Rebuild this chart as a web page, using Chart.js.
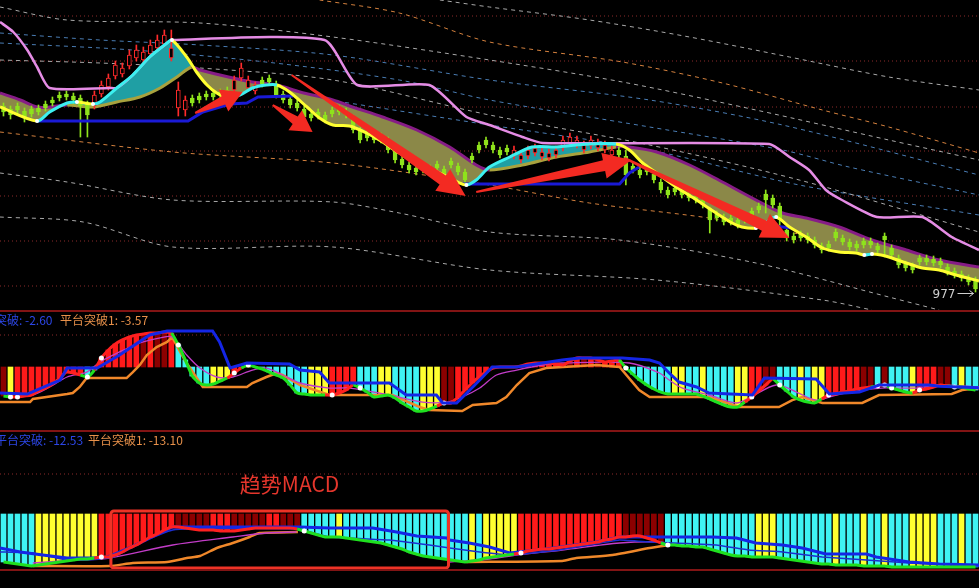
<!DOCTYPE html>
<html>
<head>
<meta charset="utf-8">
<script src="https://cdn.jsdelivr.net/npm/chart.js@4.4.1/dist/chart.umd.min.js"></script>
<style>
  html, body { margin: 0; padding: 0; background: #000; width: 979px; height: 588px; overflow: hidden; position: relative; }
  canvas { position: absolute; left: 0; }
  .sep { position: absolute; left: 0; width: 979px; height: 2px; background: #821414; }
</style>
</head>
<body>
<canvas id="kline" width="979" height="311" style="top:0"></canvas>
<canvas id="tupo" width="979" height="120" style="top:311px"></canvas>
<canvas id="macd" width="979" height="139" style="top:431px"></canvas>
<div class="sep" style="top:310px"></div>
<div class="sep" style="top:430px"></div>
<div class="sep" style="top:569px"></div>
<script>
// ---------------- K线数据 (140 根) ----------------
const kOpen = [1160,1157,1160,1155,1157,1158,1162,1166,1171,1172,
  1170,1168,1162,1160,1172,1179,1190,1192,1200,1208,
  1206,1212,1218,1222,1208,1158,1156,1168,1170,1172,
  1173,1174,1176,1176,1188,1178,1175,1186,1188,1182,
  1172,1167,1163,1157,1152,1154,1151,1156,1158,1155,
  1148,1136,1132,1131,1130,1126,1115,1107,1101,1098,
  1100,1098,1102,1097,1105,1100,1094,1110,1121,1126,
  1121,1116,1118,1110,1106,1110,1113,1109,1108,1111,
  1118,1123,1121,1116,1120,1118,1116,1111,1116,1110,
  1100,1096,1098,1092,1084,1076,1078,1075,1072,1070,
  1066,1058,1052,1049,1048,1046,1050,1055,1060,1072,
  1068,1060,1036,1030,1032,1030,1026,1020,1022,1034,
  1028,1024,1022,1025,1025,1020,1030,1018,1008,1002,
  1000,1008,1008,1007,1005,999,995,992,988,986];
const kClose = [1154,1151,1156,1148,1152,1154,1158,1163,1168,1169,
  1166,1160,1151,1171,1181,1188,1201,1198,1211,1216,
  1214,1221,1226,1231,1218,1176,1166,1163,1166,1169,
  1169,1171,1173,1186,1198,1186,1181,1182,1184,1171,
  1166,1161,1158,1149,1148,1150,1146,1152,1154,1151,
  1136,1126,1128,1126,1126,1116,1106,1101,1096,1094,
  1096,1094,1098,1091,1101,1094,1086,1106,1116,1121,
  1116,1111,1114,1116,1111,1116,1118,1114,1113,1116,
  1126,1129,1126,1121,1126,1123,1121,1116,1111,1091,
  1096,1091,1094,1086,1076,1071,1074,1071,1068,1066,
  1061,1046,1048,1044,1044,1041,1046,1051,1056,1066,
  1061,1046,1028,1026,1028,1026,1021,1016,1018,1028,
  1024,1019,1018,1021,1021,1016,1026,1011,1001,998,
  996,1004,1004,1003,1001,994,991,988,984,977];
const kHigh = [1163,1160,1163,1158,1160,1161,1165,1169,1174,1175,
  1173,1171,1165,1175,1185,1192,1205,1203,1216,1221,
  1219,1226,1231,1236,1236,1184,1170,1171,1173,1175,
  1176,1177,1179,1190,1203,1190,1184,1189,1191,1185,
  1175,1170,1166,1160,1155,1157,1154,1159,1161,1158,
  1151,1139,1135,1134,1133,1129,1118,1110,1104,1101,
  1103,1101,1105,1100,1108,1103,1097,1113,1124,1129,
  1124,1119,1121,1120,1115,1120,1122,1118,1117,1120,
  1130,1133,1130,1125,1130,1127,1125,1120,1119,1116,
  1103,1099,1101,1095,1087,1079,1081,1078,1075,1073,
  1069,1059,1055,1052,1051,1049,1053,1058,1063,1076,
  1071,1063,1039,1033,1035,1033,1029,1023,1025,1037,
  1031,1027,1025,1028,1028,1023,1033,1021,1011,1005,
  1003,1011,1011,1010,1008,1002,998,995,991,989];
const kLow = [1150,1147,1152,1144,1149,1151,1155,1160,1165,1166,
  1162,1129,1129,1157,1169,1176,1187,1189,1197,1205,
  1203,1209,1215,1219,1205,1150,1150,1160,1163,1166,
  1166,1168,1170,1173,1185,1175,1172,1179,1181,1168,
  1163,1158,1155,1146,1145,1147,1143,1149,1151,1148,
  1133,1123,1125,1123,1123,1113,1103,1098,1093,1091,
  1093,1091,1095,1088,1098,1091,1081,1103,1113,1118,
  1113,1108,1111,1107,1103,1107,1110,1106,1105,1108,
  1115,1120,1118,1113,1117,1115,1113,1108,1108,1081,
  1093,1088,1091,1083,1073,1068,1071,1068,1065,1063,
  1058,1033,1045,1041,1041,1038,1043,1048,1053,1053,
  1058,1036,1025,1023,1025,1023,1018,1013,1015,1025,
  1021,1016,1015,1018,1018,1013,1009,1008,998,995,
  993,1001,1001,1000,998,991,988,985,981,974];
const lastPriceLabel = 977;

// 主图均线 [bar index, price]
const fastLine = [[0,1159],[5.3,1145],[7.1,1154],[9.6,1163],[11,1164],[13.3,1162],[14.3,1164],[16.7,1178],[19,1191],[21.4,1209],[23.9,1223],[24.6,1226],[26.7,1209],[28.1,1194],[29.6,1181],[31,1173],[32.4,1169],[34.3,1171],[36.1,1178],[38.1,1181],[39.6,1181],[41.4,1174],[43.9,1159],[45.7,1148],[47.6,1141],[50,1140],[52.4,1133],[54.7,1124],[57.1,1113],[60,1103],[62.9,1093],[65.7,1083],[66.7,1081],[68.1,1086],[70,1099],[72.9,1109],[76.1,1119],[79.6,1119],[82.4,1121],[84.3,1122],[88.1,1122],[90,1116],[91.9,1103],[93.9,1093],[96.7,1079],[99.6,1066],[102.4,1053],[104.7,1043],[106.1,1039],[108.1,1038],[109.6,1044],[111,1049],[112.9,1039],[115.3,1029],[117.6,1018],[120,1014],[122.4,1013],[123.6,1011],[124.7,1012],[126,1011],[127.1,1009],[129.6,1003],[131.9,998],[134.3,996],[136.7,991],[140,985]];
const slowLine = [[0,1173],[2.9,1166],[5.3,1159],[7.1,1159],[9.6,1161],[13.3,1159],[16.7,1164],[20,1169],[22.9,1178],[25.3,1189],[27.4,1199],[28.6,1196],[33.3,1188],[36.1,1184],[39.6,1181],[42.9,1174],[47.6,1166],[50.4,1159],[54.7,1149],[59.6,1136],[64.3,1119],[68.1,1101],[70,1096],[74.7,1101],[79.6,1109],[84.3,1114],[88.1,1119],[90,1119],[93.9,1114],[98.6,1101],[103.3,1084],[108.1,1066],[111.9,1053],[115.3,1048],[120,1039],[124.7,1026],[129.6,1016],[134.3,1006],[140,999]];
const topLine = [[0,1244],[1.9,1234],[3.9,1216],[5.3,1199],[7.1,1178],[15.7,1178],[16.7,1178],[19,1191],[21.4,1209],[23.9,1223],[24.6,1226],[46.4,1226],[51.1,1181],[61.4,1181],[66.7,1149],[70,1141],[74.7,1129],[77.6,1123],[110,1122],[112.9,1109],[115.7,1096],[118.1,1076],[120.4,1066],[125.4,1049],[131.9,1049],[136.1,1029],[140,1016]];
const supportLine = [[5.3,1145],[26.9,1145],[29,1154],[32.9,1162],[35.3,1163],[36.9,1169],[41.9,1170],[42,null],[66.1,1082],[88.6,1082],[90,1093],[91.4,1099],[91.5,null],[110.7,1040],[113.1,1038]];
const gridLevels = [1250, 1205, 1159, 1115, 1070, 1025, 980];

// 通道虚线
const chanA = [[62.9,1266],[70,1259],[84.3,1246],[98.6,1229],[112.9,1209],[127.1,1189],[140,1176]];
const chanB = [[45.7,1266],[57.1,1253],[70,1224],[89,1204],[103.3,1183],[117.6,1156],[127.1,1139],[140,1113]];
const chanC = [[0,1259],[9.6,1246],[28.6,1243],[47.6,1229],[70,1206],[89,1184],[108.1,1156],[127.1,1126],[140,1106]];
const chanD = [[0,1233],[14.3,1226],[28.6,1221],[47.6,1211],[70,1186],[92.9,1166],[111.9,1141],[140,1091]];
const chanE = [[0,1223],[19,1216],[38,1204],[57.1,1186],[70,1166],[92.9,1139],[111.9,1116],[121.4,1099],[140,1071]];
const chanF = [[0,1206],[14.3,1203],[28.6,1198],[47.6,1186],[70,1151],[92.9,1121],[114.3,1086],[140,1034]];
const chanG = [[47.1,1166],[70,1141],[92.9,1116],[114.3,1081],[140,1051]];
const chanH = [[0,1134],[24.7,1114],[47.6,1103],[70,1081],[84.3,1063],[103.3,1046],[121.4,1021],[140,984]];
const chanI = [[0,1093],[9.6,1084],[24.7,1066],[47.6,1064],[57.1,1053],[70,1034],[88.6,1026],[108.1,1003],[127.1,969],[134.3,956]];
const chanJ = [[0,1049],[11.9,1044],[24.7,1019],[47.6,1019],[70,996],[93.9,986],[117.6,966],[124.7,956]];

// 手绘箭头 (起点 / 终点, 数据坐标)
const arrowTail = [[27.9,1153],[39,1161],[41.7,1191],[68.1,1074],[89.3,1108]];
const arrowTip  = [[34.7,1174],[44.7,1134],[66.6,1070],[90.3,1106],[112.9,1028]];

// ---------------- 平台突破 副图 ----------------
const tupoCurve = [-3.63,-3.75,-3.75,-3.63,-3.5,-3,-2.63,-2.13,-1.38,-0.63,
  -0.75,-1,-1.25,-0.38,1.13,2.13,2.88,3.38,3.75,4,
  4.13,4.25,4.25,4.38,4.25,2.75,0.88,-1.13,-2,-2.25,
  -2.13,-1.75,-1.38,-0.75,-0.13,0.25,0,-0.25,-0.63,-1,
  -1.38,-2.25,-3.25,-3.38,-3.5,-3.5,-3.5,-3.5,-3.25,-2.88,
  -2.25,-2.63,-3.13,-3.75,-3.63,-3.5,-3.88,-4.5,-5,-5.5,
  -5.5,-5.25,-4.88,-4.5,-4.5,-3.75,-2.88,-2,-1.25,-0.63,
  -0.13,0,0,0,0.13,0.38,0.5,0.5,0.5,0.38,
  0.25,0.75,1.13,1.13,1.13,0.88,0.63,0.75,0.88,-0.13,
  -0.88,-1.63,-2.25,-2.75,-3.13,-3.38,-3.38,-3.38,-3.38,-3.38,
  -3.63,-4,-4.38,-4.75,-5,-5,-4.38,-3.75,-3,-2.25,
  -1.5,-2.25,-3,-3.75,-4.13,-4.38,-4.5,-4,-3.5,-3.38,
  -3.13,-3,-2.75,-2.63,-2.5,-2.38,-2.25,-2.63,-2.88,-3.13,
  -3.25,-2.88,-2.75,-2.5,-2.25,-2.38,-2.5,-2.5,-2.75,-2.88];
const tupoRuns = [['D',1],['Y',1],['R',10],['C',2],['R',6],['D',1],['R',1],['D',2],['R',1],['C',5],['Y',3],['R',2],['Y',2],['C',7],['Y',3],['R',4],['C',3],['Y',2],['C',4],['Y',3],['D',2],['R',16],['D',1],['R',1],['D',1],['R',1],['D',1],['R',3],['C',7],['Y',2],['C',2],['Y',1],['C',4],['Y',2],['R',2],['D',2],['C',3],['Y',1],['C',1],['Y',2],['R',5],['D',2],['C',1],['D',1],['C',3],['Y',1],['R',3],['D',2],['C',1],['Y',1],['C',2]];
const tupoBlue = [[0,-3.25],[3.9,-3.38],[8.6,-1.63],[9.6,-0.13],[13.9,-0.13],[17.1,1.5],[21.4,4],[23.9,4.5],[30.4,4.5],[31.4,3.13],[32.9,-0.13],[35.3,0.5],[41.4,0.38],[42.9,-0.38],[45.7,-0.63],[47.1,-2],[55.7,-2],[58.1,-3.5],[62.4,-3.5],[63.3,-4.5],[65.3,-4.5],[67.9,-2.25],[70.4,0],[73.9,0],[80.4,0.88],[82.9,1.13],[89,1.13],[92.9,0.88],[94.3,0.5],[95.7,-0.75],[97.1,-1.88],[99.6,-2.5],[101.4,-3.25],[107.6,-3.5],[109.3,-1.38],[116.7,-1.5],[118.6,-3.38],[122.9,-3.13],[125.7,-2.25],[132.9,-2.25],[134.3,-2.4],[140,-2.6]];
const tupoPink = [[1.4,-3.75],[4.7,-3.5],[7.1,-2.5],[9.6,-1.25],[12.4,-0.63],[14.3,0.63],[17.1,1.88],[20,3],[22.9,3.63],[24.6,3.75],[26.7,1.5],[28.6,-0.13],[31,-1.25],[33.3,-1.25],[36.1,-0.38],[38.1,-0.13],[40.4,-1],[42.9,-2],[47.1,-2.63],[50,-2.63],[55.7,-3.5],[60.4,-4.38],[63.9,-4.38],[66.1,-3.75],[68.6,-2.63],[71,-1],[73.9,-0.38],[77.6,0.25],[80.4,0.5],[90,0.5],[94.3,-0.75],[95.7,-1.63],[97.6,-2.63],[101.4,-3.5],[105.3,-4.5],[107.1,-3.88],[111,-2.25],[113.9,-3.13],[116.7,-4.13],[119.6,-3.5],[123.3,-2.88],[126.1,-2.63],[131,-2.63],[133.9,-2.25],[140,-2.5]];
const tupoOrange = [[0,-4.38],[4.3,-4.38],[4.7,-4],[9.6,-3.38],[10.4,-3.25],[11.4,-2.5],[12.4,-1.38],[18.1,-1.38],[19,-0.63],[20,0.25],[21,1.5],[22.4,2.5],[23.9,3.13],[24.6,3.75],[26.4,0.88],[29,-2.5],[35.3,-2.5],[36.1,-2],[38.1,-1.25],[39.6,-0.75],[40.4,-1],[42.9,-2.25],[47.1,-3.5],[56.1,-3.5],[60,-5],[61.4,-5.38],[66.1,-5.5],[67.6,-4.75],[71,-4.5],[72.4,-3.75],[73.9,-2.25],[75.7,-0.75],[78.1,-0.13],[85.3,0.25],[88.6,0],[91.4,-2.88],[92.9,-3.75],[101.4,-3.75],[105.7,-5],[111.4,-5],[113.3,-4.13],[114.7,-3.75],[117.6,-4.5],[123.3,-4.5],[125.7,-3.5],[136.1,-3.38],[137.6,-2.88],[140,-2.63]];
const tupoLast = [-2.60, -3.57];

// ---------------- 趋势MACD 副图 ----------------
const macdCurve = [-12,-12.25,-12.5,-12.75,-13,-12.75,-12.5,-12.25,-12,-11.75,
  -11.5,-11.25,-11.25,-11,-10.75,-10.75,-10.25,-9.5,-8.5,-7.75,
  -6.75,-5.75,-5,-4,-3.25,-3.25,-3.5,-3.75,-4,-4,
  -4,-4.25,-4.25,-4.25,-4,-3.75,-3.5,-3.5,-3.5,-3.5,
  -3.5,-3.5,-3.75,-4.25,-4.75,-5.25,-5.75,-5.75,-5.75,-6,
  -6.25,-6.5,-6.75,-7,-7.25,-7.75,-8.25,-8.75,-9.5,-10,
  -10.5,-10.75,-11,-11.25,-11.5,-11.75,-12,-11.75,-11.5,-11,
  -10.75,-10.5,-10.25,-10,-9.75,-9.25,-9,-8.75,-8.75,-8.5,
  -8.25,-8,-7.75,-7.5,-7.25,-7,-6.5,-6.25,-5.75,-5.75,
  -5.5,-5.5,-6,-6.5,-7.25,-7.75,-7.75,-8,-8,-8.25,
  -8.25,-8.75,-9.25,-9.75,-10.25,-10.5,-10.5,-10.75,-10.75,-10.75,
  -10.75,-11,-11.25,-11.5,-11.75,-12,-12.25,-12.5,-12.5,-12.75,
  -12.75,-12.75,-12.75,-13,-13,-13,-13,-13.25,-13.25,-13.25,
  -13.25,-13.25,-13.25,-13.25,-13.25,-13.25,-13.25,-13.25,-13.25,-13.25];
const macdRuns = [['C',5],['Y',9],['R',11],['D',5],['R',3],['D',5],['R',2],['D',3],['C',5],['Y',1],['C',18],['Y',1],['C',1],['Y',5],['R',15],['D',6],['C',13],['Y',3],['C',8],['Y',1],['C',3],['Y',1],['C',2],['Y',1],['C',3],['Y',4],['C',3],['Y',1],['C',2]];
const macdBlue = [[0,-8.5],[2.9,-9.5],[6.1,-10.25],[9.6,-11],[13.3,-11],[16,-10.75],[20,-7.25],[24.7,-3.25],[33.3,-3.25],[42.9,-3.25],[47.1,-3.5],[53.3,-3.5],[56.7,-4.5],[59.6,-5.5],[63.9,-6],[64.3,-6.5],[67.1,-7.25],[70,-8.25],[72.9,-9.75],[78.1,-8.75],[85.3,-7],[88.6,-5.75],[101.9,-5.75],[105.3,-6],[108.1,-7.25],[111.9,-7.75],[114.7,-8.5],[118.1,-10],[123.9,-10],[125.3,-10.75],[130,-12],[134.3,-12.5],[140,-12.75]];
const macdThin = [[0,-9.5],[4.7,-9.75],[9.6,-11.5],[14.3,-11.25],[24.7,-4],[42.6,-3.75],[47.1,-5.75],[55.7,-6.5],[61.4,-7.75],[64.3,-8.5],[68.6,-9.5],[72.9,-10.25],[80,-9],[88.6,-6.5],[92.9,-7],[102.4,-7.75],[107.1,-9],[111.9,-9.5],[117.6,-10.75],[123.9,-11.5],[130,-12.25],[140,-13]];
const macdPink = [[4.7,-12.25],[11,-11.5],[15.7,-11],[24.7,-7.75],[33.3,-5.75],[38.1,-4.75],[42.4,-4.5],[43,null],[64.3,-12],[70,-11.25],[73.9,-10.25],[80.4,-9],[88.6,-7.25],[94.3,-7],[97.1,-8]];
const macdOrange = [[4.7,-13],[15.7,-13],[19,-12.25],[23.9,-12],[26.7,-11],[28.6,-10.5],[31,-8.5],[33.3,-7.25],[35.7,-5.75],[37.1,-4.75],[42.6,-4.5],[43,null],[66.7,-12],[80.4,-11.75],[82.4,-11],[87.6,-10.25],[92.9,-8.5],[95.7,-7.75]];
const macdLast = [-12.53, -13.10];
const trendBox = [[15.86, 0.75], [64.14, -13.5]];
const trendLabelAt = [34.3, 7.5];

// ---------------- helpers ----------------
const N = kClose.length;
const pts = arr => arr.map(p => ({ x: p[0], y: p[1] }));
const expand = runs => runs.flatMap(([c, n]) => Array(n).fill(c));
const redish = c => c === 'R' || c === 'D';
const palette = { R: '#ff1a1a', D: '#8c0000', C: '#3ff3f3', Y: '#ffff30' };
const UP = '#ff2b2b', DOWN = '#8fe31c';
const FONT = '"Noto Sans CJK SC", sans-serif';

function valueAt(arr, x) {
  for (let k = 1; k < arr.length; k++) {
    if (arr[k][0] >= x) {
      const a = arr[k - 1], b = arr[k];
      return a[1] + (b[1] - a[1]) * (x - a[0]) / (b[0] - a[0]);
    }
  }
  return arr[arr.length - 1][1];
}
function isTurn(arr, k) {
  if (k <= 0 || k >= arr.length - 1) return false;
  const d0 = Math.sign(arr[k][1] - arr[k - 1][1]), d1 = Math.sign(arr[k + 1][1] - arr[k][1]);
  return d0 !== 0 && d1 !== 0 && d0 !== d1;
}

function baseOptions(ymin, ymax) {
  return {
    responsive: false, animation: false, devicePixelRatio: 1, events: [],
    layout: { padding: 0 },
    plugins: { legend: { display: false }, tooltip: { enabled: false } },
    elements: { point: { radius: 0 } },
    scales: {
      x: { type: 'linear', min: 0, max: N, offset: false, display: false, grid: { offset: false } },
      y: { type: 'linear', min: ymin, max: ymax, display: false }
    }
  };
}

function dottedLevel(v, order) {
  return { type: 'line', data: [{ x: 0, y: v }, { x: N, y: v }], borderColor: '#8c2a2a',
           borderWidth: 1, borderDash: [1, 3], pointRadius: 0, order: order };
}

function drawArrow(ctx, x0, y0, x1, y1) {
  const len = Math.hypot(x1 - x0, y1 - y0);
  const big = len > 100;
  const headLen = big ? 28 : 21, headW = big ? 26 : 24, neckW = big ? 11 : 9, tailW = 2;
  ctx.save();
  ctx.translate(x0, y0);
  ctx.rotate(Math.atan2(y1 - y0, x1 - x0));
  ctx.beginPath();
  ctx.moveTo(0, -tailW / 2);
  ctx.lineTo(len - headLen, -neckW / 2);
  ctx.lineTo(len - headLen, -headW / 2);
  ctx.lineTo(len, 0);
  ctx.lineTo(len - headLen, headW / 2);
  ctx.lineTo(len - headLen, neckW / 2);
  ctx.lineTo(0, tailW / 2);
  ctx.closePath();
  ctx.fillStyle = '#f32a22';
  ctx.fill();
  ctx.restore();
}

// ---------------- 主图 ----------------
const up = kClose.map((c, i) => c >= kOpen[i]);
const mainSets = [];
gridLevels.forEach(v => mainSets.push(dottedLevel(v, 40)));
[[chanA, '#a9a9a9'], [chanB, '#d4813e'], [chanC, '#a9a9a9'], [chanD, '#4a7db4'], [chanE, '#4a7db4'],
 [chanF, '#a9a9a9'], [chanG, '#4a7db4'], [chanH, '#d4813e'], [chanI, '#a9a9a9'], [chanJ, '#a9a9a9']]
  .forEach(([arr, col]) => mainSets.push({
    type: 'line', data: pts(arr), borderColor: col, borderWidth: 1, borderDash: [4, 4],
    tension: 0.3, pointRadius: 0, order: 35
  }));
const slowIndex = mainSets.length;
mainSets.push({
  type: 'line', data: pts(slowLine), borderWidth: 3, tension: 0.3, pointRadius: 0, order: 25,
  borderColor: '#861c86',
  segment: {
    borderColor: c => {
      const mx = (c.p0.parsed.x + c.p1.parsed.x) / 2, my = (c.p0.parsed.y + c.p1.parsed.y) / 2;
      return valueAt(fastLine, mx) > my ? '#a8a23e' : '#861c86';
    }
  }
});
mainSets.push({
  type: 'line', data: pts(fastLine), borderColor: 'rgba(0,0,0,0)', borderWidth: 1, tension: 0.3,
  pointRadius: 0, order: 30, fill: { target: slowIndex, above: '#1f9fa4', below: '#8b8848' }
});
mainSets.push({
  type: 'bar', data: kLow.map((l, i) => ({ x: i + 0.5, y: [l, kHigh[i]] })),
  backgroundColor: up.map(u => u ? UP : DOWN), barThickness: 1, grouped: false, order: 21
});
mainSets.push({
  type: 'bar', data: kOpen.map((o, i) => ({ x: i + 0.5, y: [o, kClose[i]] })),
  backgroundColor: up.map(u => u ? '#000' : DOWN), borderColor: up.map(u => u ? UP : DOWN),
  borderWidth: 1, borderSkipped: false, barThickness: 4, grouped: false, order: 20
});
mainSets.push({ type: 'line', data: pts(topLine), borderColor: '#e58ce5', borderWidth: 2.5, tension: 0.2, pointRadius: 0, order: 8 });
mainSets.push({ type: 'line', data: pts(supportLine), borderColor: '#1a1ad6', borderWidth: 3, tension: 0, pointRadius: 0, spanGaps: false, order: 7 });
mainSets.push({
  type: 'line', data: pts(fastLine), borderColor: '#ffff30', borderWidth: 3, tension: 0.3, order: 6,
  pointRadius: ctx => isTurn(fastLine, ctx.dataIndex) ? 2 : 0,
  pointBackgroundColor: '#ffffff', pointBorderWidth: 0,
  segment: { borderColor: c => c.p1.parsed.y >= c.p0.parsed.y ? '#3cf0f0' : '#ffff30' }
});

new Chart(document.getElementById('kline'), {
  type: 'bar',
  data: { datasets: mainSets },
  options: baseOptions(955, 1266),
  plugins: [{
    id: 'marks',
    afterDatasetsDraw(chart) {
      const { ctx, scales: { x, y } } = chart;
      arrowTail.forEach((t, k) => {
        const h = arrowTip[k];
        drawArrow(ctx, x.getPixelForValue(t[0]), y.getPixelForValue(t[1]),
                       x.getPixelForValue(h[0]), y.getPixelForValue(h[1]));
      });
      const px = x.getPixelForValue(N - 0.5), py = y.getPixelForValue(kClose[N - 1]);
      ctx.save();
      ctx.fillStyle = '#cfcfcf';
      ctx.strokeStyle = '#cfcfcf';
      ctx.font = '12px "DejaVu Sans", sans-serif';
      ctx.textAlign = 'right';
      ctx.textBaseline = 'middle';
      ctx.fillText(String(lastPriceLabel), px - 20, py + 6);
      ctx.lineWidth = 1;
      ctx.beginPath();
      ctx.moveTo(px - 18, py + 4.5); ctx.lineTo(px - 2, py + 4.5);
      ctx.moveTo(px - 6, py + 1.5); ctx.lineTo(px - 2, py + 4.5); ctx.lineTo(px - 6, py + 7.5);
      ctx.stroke();
      ctx.restore();
    }
  }]
});

// ---------------- 副图构建 ----------------
function indicatorSets(curve, codes, extra, dotLevel) {
  const sets = [dottedLevel(dotLevel, 40)];
  sets.push({
    type: 'bar', data: curve.map((v, i) => ({ x: i + 0.5, y: [0, v] })),
    backgroundColor: codes.map(c => palette[c]), barThickness: 5, grouped: false, order: 30
  });
  extra.forEach(e => sets.push(e));
  sets.push({
    type: 'line', data: curve.map((v, i) => ({ x: i + 0.5, y: v })), borderWidth: 3, tension: 0.2, order: 2,
    borderColor: '#1fe01f',
    segment: { borderColor: c => redish(codes[c.p1DataIndex]) ? '#ff2020' : '#1fe01f' },
    pointRadius: ctx => (ctx.dataIndex > 0 && redish(codes[ctx.dataIndex]) !== redish(codes[ctx.dataIndex - 1])) ? 2.5 : 0,
    pointBackgroundColor: '#ffffff', pointBorderWidth: 0
  });
  return sets;
}

function headerPlugin(vals, x1, x2) {
  return {
    id: 'hdr',
    afterDraw(chart) {
      const c = chart.ctx;
      c.save();
      c.font = '12px ' + FONT;
      c.textBaseline = 'middle';
      c.fillStyle = '#2c46e6';
      c.fillText('平台突破: ' + vals[0].toFixed(2), x1, 9);
      c.fillStyle = '#e8914a';
      c.fillText('平台突破1: ' + vals[1].toFixed(2), x2, 9);
      c.restore();
    }
  };
}

const tupoCodes = expand(tupoRuns);
new Chart(document.getElementById('tupo'), {
  type: 'bar',
  data: {
    datasets: indicatorSets(tupoCurve, tupoCodes, [
      { type: 'line', data: pts(tupoOrange), borderColor: '#f0882a', borderWidth: 2.5, tension: 0, pointRadius: 0, order: 5 },
      { type: 'line', data: pts(tupoPink), borderColor: '#c23cc8', borderWidth: 1.3, tension: 0.3, pointRadius: 0, order: 4 },
      { type: 'line', data: pts(tupoBlue), borderColor: '#1426e6', borderWidth: 3, tension: 0, pointRadius: 0, order: 1 }
    ], 4)
  },
  options: baseOptions(-8, 7),
  plugins: [headerPlugin(tupoLast, -29, 60)]
});

const macdCodes = expand(macdRuns);
new Chart(document.getElementById('macd'), {
  type: 'bar',
  data: {
    datasets: indicatorSets(macdCurve, macdCodes, [
      { type: 'line', data: pts(macdOrange), borderColor: '#f0882a', borderWidth: 2.5, tension: 0.2, pointRadius: 0, order: 6 },
      { type: 'line', data: pts(macdPink), borderColor: '#c23cc8', borderWidth: 1.3, tension: 0.3, pointRadius: 0, order: 5 },
      { type: 'line', data: pts(macdThin), borderColor: '#1c2fd0', borderWidth: 1.5, tension: 0.1, pointRadius: 0, order: 4 },
      { type: 'line', data: pts(macdBlue), borderColor: '#1426e6', borderWidth: 3, tension: 0, pointRadius: 0, order: 3 }
    ], 10)
  },
  options: baseOptions(-14, 20.75),
  plugins: [headerPlugin(macdLast, -5, 88), {
    id: 'trendNote',
    afterDatasetsDraw(chart) {
      const { ctx, scales: { x, y } } = chart;
      const x0 = x.getPixelForValue(trendBox[0][0]), y0 = y.getPixelForValue(trendBox[0][1]);
      const x1 = x.getPixelForValue(trendBox[1][0]), y1 = y.getPixelForValue(trendBox[1][1]);
      ctx.save();
      ctx.strokeStyle = '#ee3326';
      ctx.lineWidth = 3;
      ctx.beginPath();
      if (ctx.roundRect) ctx.roundRect(x0, y0, x1 - x0, y1 - y0, 3); else ctx.rect(x0, y0, x1 - x0, y1 - y0);
      ctx.stroke();
      ctx.fillStyle = '#e5362c';
      ctx.font = '21px ' + FONT;
      ctx.textBaseline = 'middle';
      ctx.fillText('趋势MACD', x.getPixelForValue(trendLabelAt[0]), y.getPixelForValue(trendLabelAt[1]));
      ctx.restore();
    }
  }]
});
</script>
</body>
</html>
